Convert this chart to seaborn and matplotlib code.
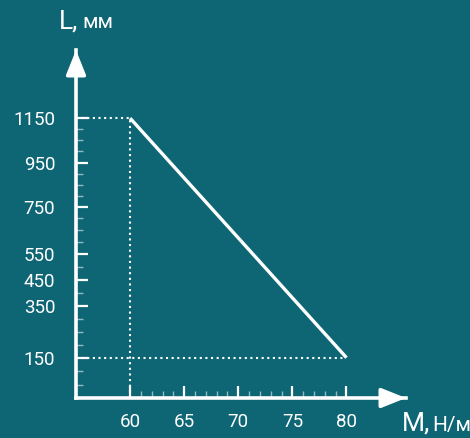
import numpy as np
import pandas as pd
import matplotlib
matplotlib.use("Agg")
import matplotlib.pyplot as plt
from matplotlib.ticker import FixedLocator
import seaborn as sns

# data
m_values = [60, 80]          # M, Н/м
l_values = [1150, 150]       # L, мм
x_ticks = [60, 65, 70, 75, 80]
y_ticks = [150, 350, 450, 550, 750, 950, 1150]

# the L axis of the drawing is not uniform, it gets wider towards the bottom
scale_v = [-1000, 0, 150, 350, 450, 550, 750, 950, 1150, 3000]
scale_h = [-270, 0, 40.3, 92.3, 118, 144.3, 191.3, 235.3, 279.7, 690.4]

def fwd(v):
    return np.interp(v, scale_v, scale_h)

def inv(h):
    return np.interp(h, scale_h, scale_v)

bg = "#0e6675"
sns.set_theme(style="white")
plt.rcParams["font.family"] = ["Roboto", "DejaVu Sans"]

fig = plt.figure(figsize=(4.70, 4.38), dpi=100, facecolor=bg)
W, H = 470, 438
ax = fig.add_axes([76 / W, 40 / H, (406 - 76) / W, (398 - 50) / H])
ax.set_facecolor(bg)
ax.set_yscale("function", functions=(fwd, inv))

df = pd.DataFrame({"M": m_values, "L": l_values})
sns.lineplot(data=df, x="M", y="L", ax=ax, color="white", linewidth=2.4,
             solid_capstyle="butt")

# dotted guides
dot = dict(color="white", linewidth=1.5, linestyle=(0, (1, 1.7)))
ax.plot([55, m_values[0]], [l_values[0], l_values[0]], **dot)
ax.plot([m_values[0], m_values[0]], [0, l_values[0]], **dot)
ax.plot([55, m_values[1]], [l_values[1], l_values[1]], **dot)

ax.set_xlim(55, 85.5)
ax.set_ylim(0, 1457)

ax.xaxis.set_major_locator(FixedLocator(x_ticks))
ax.yaxis.set_major_locator(FixedLocator(y_ticks))
ax.xaxis.set_minor_locator(FixedLocator(np.arange(61, 80)))
ax.yaxis.set_minor_locator(FixedLocator(np.arange(50, 1151, 50)))

ax.tick_params(which="major", direction="in", length=8.5, width=1.6,
               color="white", labelcolor="white", labelsize=13.5)
ax.tick_params(axis="y", which="major", pad=15)
ax.tick_params(axis="x", which="major", pad=11)
ax.tick_params(which="minor", direction="in", length=5, width=1,
               color="#8fb9bf")
ax.tick_params(axis="both", which="both", bottom=True, left=True)

for s in ["top", "right"]:
    ax.spines[s].set_visible(False)
for s in ["left", "bottom"]:
    ax.spines[s].set_color("white")
    ax.spines[s].set_linewidth(2.6)

ax.set_xlabel("")
ax.set_ylabel("")

# arrow heads
ax.annotate("", xy=(1.0, 0), xytext=(0.93, 0), xycoords="axes fraction",
            arrowprops=dict(arrowstyle="-|>,head_length=1.25,head_width=0.5",
                            color="white", lw=2.6, shrinkA=0, shrinkB=0))
ax.annotate("", xy=(0, 1.0), xytext=(0, 0.93), xycoords="axes fraction",
            arrowprops=dict(arrowstyle="-|>,head_length=1.25,head_width=0.5",
                            color="white", lw=2.6, shrinkA=0, shrinkB=0))

# axis titles
fig.text(59 / W, 1 - 28 / H, "L,", color="white", fontsize=19, ha="left", va="baseline")
fig.text(82 / W, 1 - 28 / H, "мм", color="white", fontsize=15, ha="left", va="baseline")
fig.text(402 / W, 1 - 431 / H, "M,", color="white", fontsize=19, ha="left", va="baseline")
fig.text(432 / W, 1 - 431 / H, "Н/м", color="white", fontsize=15, ha="left", va="baseline")

fig.savefig("out.png", dpi=100, facecolor=bg)
